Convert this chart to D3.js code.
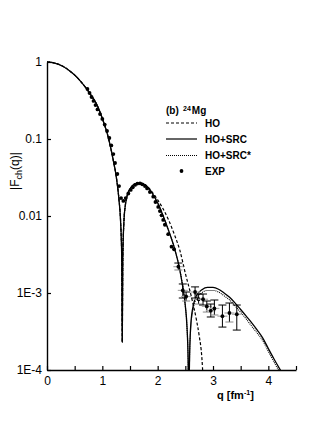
<!DOCTYPE html>
<html><head><meta charset="utf-8">
<script src="https://cdn.jsdelivr.net/npm/d3@7"></script>
<style>
html,body{margin:0;padding:0;background:#fff;}
svg{display:block;font-family:"Liberation Sans",Arial,sans-serif;}
</style></head>
<body>
<svg id="c" width="327" height="436"></svg>
<script>
// ---------- data ----------
const xTicks = [0,0.5,1,1.5,2,2.5,3,3.5,4,4.5];
const xTickLabels = ["0","","1","","2","","3","","4",""];
const yTicks = [1,0.1,0.01,1e-3,1e-4];
const yTickLabels = ["1","0.1","0.01","1E-3","1E-4"];

// HO+SRC (solid)
const srcQ = [0,0.1,0.2,0.3,0.4,0.5,0.6,0.7,0.8,0.9,1.0,1.1,1.2,1.25,1.3,1.33,1.35,1.36,1.37,1.39,1.42,1.45,1.5,1.55,1.6,1.67,1.75,1.8,1.9,2.0,2.1,2.2,2.3,2.4,2.45,2.5,2.53,2.55,2.56,2.58,2.6,2.65,2.7,2.8,2.9,3.0,3.1,3.2,3.3,3.4,3.5,3.6,3.7,3.8,3.9,4.0,4.1,4.2,4.3];
const srcF = [1,0.984,0.939,0.868,0.776,0.676,0.569,0.464,0.367,0.28,0.185,0.11,0.052,0.033,0.0165,0.0085,0.003,0.00023,0.0028,0.0084,0.0145,0.0185,0.0225,0.025,0.0263,0.0267,0.026,0.0245,0.0198,0.0148,0.0100,0.0064,0.0039,0.0020,0.00125,0.00068,0.00036,0.00014,0.00004,0.00019,0.0004,0.00072,0.00092,0.0011,0.00118,0.00118,0.00112,0.001,0.00088,0.00074,0.00061,0.0005,0.00041,0.00033,0.00026,0.00019,0.00014,0.000105,0.00008];

// HO+SRC* (dotted)
const srcStarQ = [0,0.1,0.2,0.3,0.4,0.5,0.6,0.7,0.8,0.9,1.0,1.1,1.2,1.25,1.3,1.33,1.35,1.36,1.37,1.39,1.42,1.45,1.5,1.55,1.6,1.67,1.75,1.8,1.9,2.0,2.1,2.2,2.3,2.4,2.45,2.5,2.53,2.55,2.56,2.58,2.6,2.65,2.7,2.8,2.9,3.0,3.1,3.2,3.3,3.4,3.5,3.6,3.7,3.8,3.9,4.0,4.1,4.2,4.3];
const srcStarF = [1,0.984,0.939,0.868,0.776,0.676,0.569,0.464,0.367,0.28,0.185,0.11,0.052,0.033,0.0165,0.0085,0.003,0.00023,0.0028,0.0084,0.0145,0.0185,0.0225,0.025,0.0263,0.0267,0.026,0.0245,0.0198,0.0148,0.0100,0.0064,0.0039,0.0020,0.00125,0.00068,0.00036,0.00014,0.00004,0.000175,0.00037,0.00066,0.00085,0.00101,0.00108,0.00108,0.00103,0.00092,0.00081,0.00068,0.00056,0.00046,0.00037,0.0003,0.00024,0.000175,0.000128,0.000095,0.00007];

// HO (dashed)
const hoQ = [0,0.1,0.2,0.3,0.4,0.5,0.6,0.7,0.8,0.9,1.0,1.1,1.2,1.25,1.3,1.33,1.35,1.36,1.37,1.39,1.42,1.45,1.5,1.55,1.6,1.67,1.75,1.8,1.9,2.0,2.1,2.2,2.3,2.4,2.5,2.6,2.7,2.75,2.8,2.84];
const hoF = [1,0.984,0.939,0.868,0.776,0.676,0.569,0.464,0.367,0.28,0.185,0.11,0.052,0.033,0.0165,0.0085,0.003,0.00023,0.0028,0.0084,0.0145,0.0185,0.0225,0.025,0.0263,0.0267,0.026,0.0247,0.0205,0.0162,0.0123,0.0088,0.0058,0.0036,0.0018,0.00095,0.00045,0.00028,0.00014,0.00004];

// EXP points without error bars
const expQ = [0.731,0.769,0.805,0.841,0.877,0.913,0.958,1.0,1.043,1.085,1.127,1.163,1.199,1.230,1.271,1.302,1.338,1.380,1.423,1.470,1.513,1.550,1.591,1.633,1.681,1.723,1.77,1.81,1.86,1.92,1.96,2.01,2.04,2.07,2.10,2.13,2.19,2.25,2.296];
const expF = [0.446,0.396,0.351,0.312,0.276,0.242,0.211,0.182,0.154,0.127,0.103,0.0824,0.0638,0.0488,0.0351,0.0245,0.0171,0.0157,0.0171,0.0196,0.0218,0.0236,0.0253,0.0264,0.0266,0.0258,0.0245,0.0228,0.0205,0.0178,0.0152,0.0131,0.0116,0.0102,0.0089,0.0077,0.0058,0.0040,0.0037];

// EXP points with error bars
const errQ  = [2.374,2.454,2.514,2.676,2.74,2.82,2.888,2.96,3.025,3.17,3.297,3.43];
const errF  = [2.2e-3,1.08e-3,9.0e-4,1.03e-3,8.3e-4,8.3e-4,6.7e-4,5.9e-4,6.3e-4,5.0e-4,5.5e-4,5.3e-4];
const errLo = [1.99e-3,8.61e-4,7.87e-4,8.61e-4,7.19e-4,6.98e-4,5.66e-4,4.88e-4,5.18e-4,3.61e-4,4.20e-4,3.30e-4];
const errHi = [2.45e-3,1.31e-3,1.03e-3,1.20e-3,9.70e-4,9.70e-4,7.87e-4,7.19e-4,8.11e-4,6.98e-4,7.41e-4,6.98e-4];

const legendLabels = ["HO","HO+SRC","HO+SRC*","EXP"];

// ---------- drawing ----------
const svg = d3.select("#c");
const x = d3.scaleLinear().domain([0,4.5]).range([47,296]);
const y = d3.scaleLog().domain([1e-4,1]).range([370,62]);

svg.append("clipPath").attr("id","clip").append("rect")
  .attr("x",47).attr("y",55).attr("width",260).attr("height",315);

// axes
const xAxis = d3.axisBottom(x).tickValues(xTicks)
  .tickFormat((d,i)=>xTickLabels[i]).tickSizeInner(-4).tickSizeOuter(0).tickPadding(6);
const gx = svg.append("g").attr("transform","translate(0,370)").call(xAxis);
const yAxis = d3.axisLeft(y).tickValues(yTicks)
  .tickFormat((d,i)=>yTickLabels[i]).tickSizeInner(-4).tickSizeOuter(0).tickPadding(5);
const gy = svg.append("g").attr("transform","translate(47,0)").call(yAxis);
[gx,gy].forEach(g=>{
  g.selectAll("text").attr("font-size",12).attr("fill","#000")
   .attr("font-family","'Liberation Sans',Arial,sans-serif");
  g.selectAll("line").attr("stroke","#000").attr("stroke-width",1.2);
  g.select(".domain").attr("stroke","#000").attr("stroke-width",1.4);
});

const plot = svg.append("g").attr("clip-path","url(#clip)");
const line = d3.line().x(d=>x(d[0])).y(d=>y(d[1])).curve(d3.curveMonotoneX);

plot.append("path").datum(d3.zip(srcStarQ,srcStarF)).attr("d",line)
  .attr("fill","none").attr("stroke","#000").attr("stroke-width",1.1)
  .attr("stroke-dasharray","1,1");
plot.append("path").datum(d3.zip(hoQ,hoF)).attr("d",line)
  .attr("fill","none").attr("stroke","#000").attr("stroke-width",1.2)
  .attr("stroke-dasharray","3,2");
plot.append("path").datum(d3.zip(srcQ,srcF)).attr("d",line)
  .attr("fill","none").attr("stroke","#000").attr("stroke-width",1.3);

// exp
plot.selectAll("circle.e").data(d3.zip(expQ,expF)).join("circle")
  .attr("cx",d=>x(d[0])).attr("cy",d=>y(d[1])).attr("r",1.9).attr("fill","#000");

const errData = errQ.map((q,i)=>({q,f:errF[i],lo:errLo[i],hi:errHi[i]}));
const eg = plot.append("g");
errData.forEach((d,i)=>{
  const cx = x(d.q);
  eg.append("line").attr("x1",cx-5).attr("x2",cx+5).attr("y1",y(d.f)).attr("y2",y(d.f))
    .attr("stroke","#aaa").attr("stroke-width",1.2);
  eg.append("line").attr("x1",cx).attr("x2",cx).attr("y1",y(d.lo)).attr("y2",y(d.hi))
    .attr("stroke","#000").attr("stroke-width",1);
  [d.lo,d.hi].forEach((v,j)=>{
    eg.append("line").attr("x1",cx-4).attr("x2",cx+4).attr("y1",y(v)).attr("y2",y(v))
      .attr("stroke", j===0 && i%2===0 ? "#888" : "#000").attr("stroke-width",1);
  });
  eg.append("circle").attr("cx",cx).attr("cy",y(d.f)).attr("r",1.9).attr("fill","#000");
});

// legend
const lg = svg.append("g").attr("font-family","'Liberation Sans',Arial,sans-serif")
  .attr("font-weight","bold").attr("font-size",10);
lg.append("text").attr("x",166).attr("y",114).text("(b)");
const mg = lg.append("text").attr("x",183).attr("y",114);
mg.append("tspan").attr("font-size",7).attr("dy",-3).text("24");
mg.append("tspan").attr("dy",3).attr("dx",1).text("Mg");
const rowsY = [123,139,155.5,171];
const dashes = ["3,2",null,"1,1",null];
legendLabels.forEach((lab,i)=>{
  const yy = rowsY[i];
  if(i<3){
    const l = lg.append("line").attr("x1",166).attr("x2",197).attr("y1",yy).attr("y2",yy)
      .attr("stroke","#000").attr("stroke-width",1.2);
    if(dashes[i]) l.attr("stroke-dasharray",dashes[i]);
  } else {
    lg.append("circle").attr("cx",181.5).attr("cy",yy).attr("r",1.9).attr("fill","#000");
  }
  lg.append("text").attr("x",205).attr("y",yy+3.6).text(lab);
});

// axis titles
const yl = svg.append("text").attr("transform","translate(19,171) rotate(-90)")
  .attr("text-anchor","middle").attr("font-size",12)
  .attr("font-family","'Liberation Sans',Arial,sans-serif");
yl.append("tspan").text("|F");
yl.append("tspan").attr("font-size",9).attr("dy",3).text("ch");
yl.append("tspan").attr("dy",-3).text("(q)|");

const xl = svg.append("text").attr("x",217).attr("y",399)
  .attr("font-size",11).attr("font-weight","bold")
  .attr("font-family","'Liberation Sans',Arial,sans-serif");
xl.append("tspan").text("q [fm");
xl.append("tspan").attr("font-size",7).attr("dy",-4).text("-1");
xl.append("tspan").attr("dy",4).text("]");
</script>
</body></html>
